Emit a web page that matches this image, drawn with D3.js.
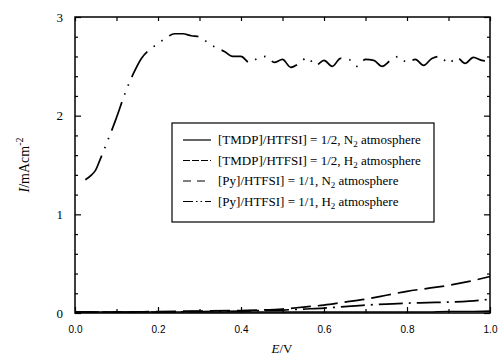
<!DOCTYPE html>
<html>
<head>
<meta charset="utf-8">
<title>I vs E</title>
<style>
  body { margin: 0; background: #fff; }
  svg { display: block; }
</style>
</head>
<body>
<script src="https://d3js.org/d3.v7.min.js"></script>
<script>
// data
var bigE = [0.025,0.04,0.05,0.06,0.08,0.10,0.12,0.14,0.16,0.18,0.20,0.22,0.24,0.26,0.28,0.30,0.32,0.34,0.36,0.38,0.40,0.42,0.44,0.46,0.48,0.50,0.52,0.54,0.56,0.58,0.60,0.62,0.64,0.66,0.68,0.70,0.72,0.74,0.76,0.78,0.80,0.82,0.84,0.86,0.88,0.90,0.92,0.94,0.96,0.98,1.00];
var bigI = [1.35,1.40,1.45,1.55,1.76,1.98,2.22,2.42,2.58,2.67,2.73,2.79,2.83,2.83,2.81,2.80,2.74,2.69,2.65,2.60,2.60,2.54,2.58,2.60,2.54,2.57,2.49,2.53,2.59,2.51,2.56,2.50,2.58,2.57,2.50,2.57,2.56,2.50,2.56,2.60,2.54,2.57,2.51,2.58,2.60,2.53,2.59,2.53,2.59,2.56,2.55];

var lowE = [0.0,0.1,0.2,0.3,0.4,0.45,0.5,0.55,0.6,0.65,0.7,0.75,0.8,0.85,0.9,0.95,1.0];
var tmdpN2 = [0.01,0.01,0.01,0.01,0.01,0.01,0.01,0.01,0.01,0.01,0.01,0.01,0.01,0.01,0.015,0.015,0.02];
var tmdpH2 = [0.01,0.01,0.015,0.02,0.025,0.03,0.04,0.06,0.08,0.11,0.14,0.18,0.22,0.25,0.28,0.32,0.37];
var pyN2   = [0.01,0.01,0.01,0.015,0.02,0.025,0.03,0.04,0.05,0.065,0.08,0.09,0.10,0.105,0.11,0.12,0.14];

var legendLabels = [
  ["[TMDP]/HTFSI] = 1/2, N", "2", " atmosphere"],
  ["[TMDP]/HTFSI] = 1/2, H", "2", " atmosphere"],
  ["[Py]/HTFSI] = 1/1, N", "2", " atmosphere"],
  ["[Py]/HTFSI] = 1/1, H", "2", " atmosphere"]
];
var dashes = ["none", "20,7", "24,6,2,6", "30,8,1.5,8,1.5,8"];
var legendDashes = ["none", "7,2", "8,6", "10,3,1.5,3,1.5,3"];

var xMajor = [0, 0.2, 0.4, 0.6, 0.8, 1.0];
var xMinor = [0.1, 0.3, 0.5, 0.7, 0.9];
var yMajor = [0, 1, 2, 3];
var yMinor = [0.2,0.4,0.6,0.8,1.2,1.4,1.6,1.8,2.2,2.4,2.6,2.8];

var W = 499, H = 355;
var pLeft = 75, pRight = 490, pTop = 17, pBottom = 313;

var svg = d3.select("body").append("svg")
  .attr("width", W).attr("height", H);

var x = d3.scaleLinear().domain([0, 1]).range([pLeft, pRight]);
var y = d3.scaleLinear().domain([0, 3]).range([pBottom, pTop]);

// axes: ticks pointing inward on all four sides
function styleAxis(g) {
  g.select(".domain").remove();
  g.selectAll(".tick line").attr("stroke", "#000").attr("stroke-width", 1.2);
}

svg.append("g").attr("transform", "translate(0," + pBottom + ")")
  .call(d3.axisBottom(x).tickValues(xMajor).tickSize(-6).tickPadding(13).tickFormat(d3.format(".1f")))
  .call(styleAxis)
  .selectAll("text").attr("font-family", "Liberation Sans, Arial, sans-serif")
  .attr("font-size", 10).attr("fill", "#000");
svg.append("g").attr("transform", "translate(0," + pBottom + ")")
  .call(d3.axisBottom(x).tickValues(xMinor).tickSize(-4).tickFormat(""))
  .call(styleAxis);
svg.append("g").attr("transform", "translate(0," + pTop + ")")
  .call(d3.axisTop(x).tickValues(xMajor.concat(xMinor)).tickSize(-4).tickFormat(""))
  .call(styleAxis);

svg.append("g").attr("transform", "translate(" + pLeft + ",0)")
  .call(d3.axisLeft(y).tickValues(yMajor).tickSize(-6).tickPadding(12).tickFormat(d3.format("d")))
  .call(styleAxis)
  .selectAll("text").attr("font-family", "Liberation Serif, Times New Roman, serif")
  .attr("font-size", 13).attr("fill", "#000");
svg.append("g").attr("transform", "translate(" + pLeft + ",0)")
  .call(d3.axisLeft(y).tickValues(yMinor).tickSize(-3).tickFormat(""))
  .call(styleAxis);
svg.append("g").attr("transform", "translate(" + pRight + ",0)")
  .call(d3.axisRight(y).tickValues(yMajor).tickSize(-6).tickFormat(""))
  .call(styleAxis);
svg.append("g").attr("transform", "translate(" + pRight + ",0)")
  .call(d3.axisRight(y).tickValues(yMinor).tickSize(-3).tickFormat(""))
  .call(styleAxis);

// frame
svg.append("rect")
  .attr("x", pLeft).attr("y", pTop)
  .attr("width", pRight - pLeft).attr("height", pBottom - pTop)
  .attr("fill", "none").attr("stroke", "#000").attr("stroke-width", 1.5);

// curves
var line = d3.line().x(function(d) { return x(d[0]); }).y(function(d) { return y(d[1]); })
  .curve(d3.curveMonotoneX);

var series = [
  { e: lowE, i: tmdpN2, dash: dashes[0] },
  { e: lowE, i: tmdpH2, dash: dashes[1] },
  { e: lowE, i: pyN2, dash: dashes[2] },
  { e: bigE, i: bigI, dash: dashes[3] }
];

svg.selectAll("path.curve").data(series).enter().append("path")
  .attr("class", "curve")
  .attr("fill", "none").attr("stroke", "#000").attr("stroke-width", 1.7)
  .attr("stroke-dasharray", function(d) { return d.dash; })
  .attr("d", function(d) { return line(d.e.map(function(v, k) { return [v, d.i[k]]; })); });

// legend
var lg = svg.append("g");
lg.append("rect")
  .attr("x", 172).attr("y", 123).attr("width", 262).attr("height", 99)
  .attr("fill", "#fff").attr("stroke", "#000").attr("stroke-width", 1.2);

legendLabels.forEach(function(lab, k) {
  var yy = 140 + k * 20.5;
  lg.append("line")
    .attr("x1", 183).attr("x2", 211).attr("y1", yy).attr("y2", yy)
    .attr("stroke", "#000").attr("stroke-width", 1.2)
    .attr("stroke-dasharray", legendDashes[k]);
  var t = lg.append("text")
    .attr("x", 218).attr("y", yy + 4)
    .attr("font-family", "Liberation Serif, Times New Roman, serif")
    .attr("font-size", 13).attr("fill", "#000");
  t.append("tspan").text(lab[0]);
  t.append("tspan").attr("dy", 3).attr("font-size", 9).text(lab[1]);
  t.append("tspan").attr("dy", -3).text(lab[2]);
});

// axis titles
var xt = svg.append("text")
  .attr("x", 282).attr("y", 353).attr("text-anchor", "middle")
  .attr("font-family", "Liberation Serif, Times New Roman, serif")
  .attr("font-size", 13).attr("fill", "#000");
xt.append("tspan").attr("font-style", "italic").text("E");
xt.append("tspan").text("/V");

var yt = svg.append("text")
  .attr("transform", "translate(29,165) rotate(-90)")
  .attr("text-anchor", "middle")
  .attr("font-family", "Liberation Serif, Times New Roman, serif")
  .attr("font-size", 14).attr("fill", "#000");
yt.append("tspan").attr("font-style", "italic").text("I");
yt.append("tspan").text("/mAcm");
yt.append("tspan").attr("dy", -6).attr("font-size", 10).text("-2");
</script>
</body>
</html>
